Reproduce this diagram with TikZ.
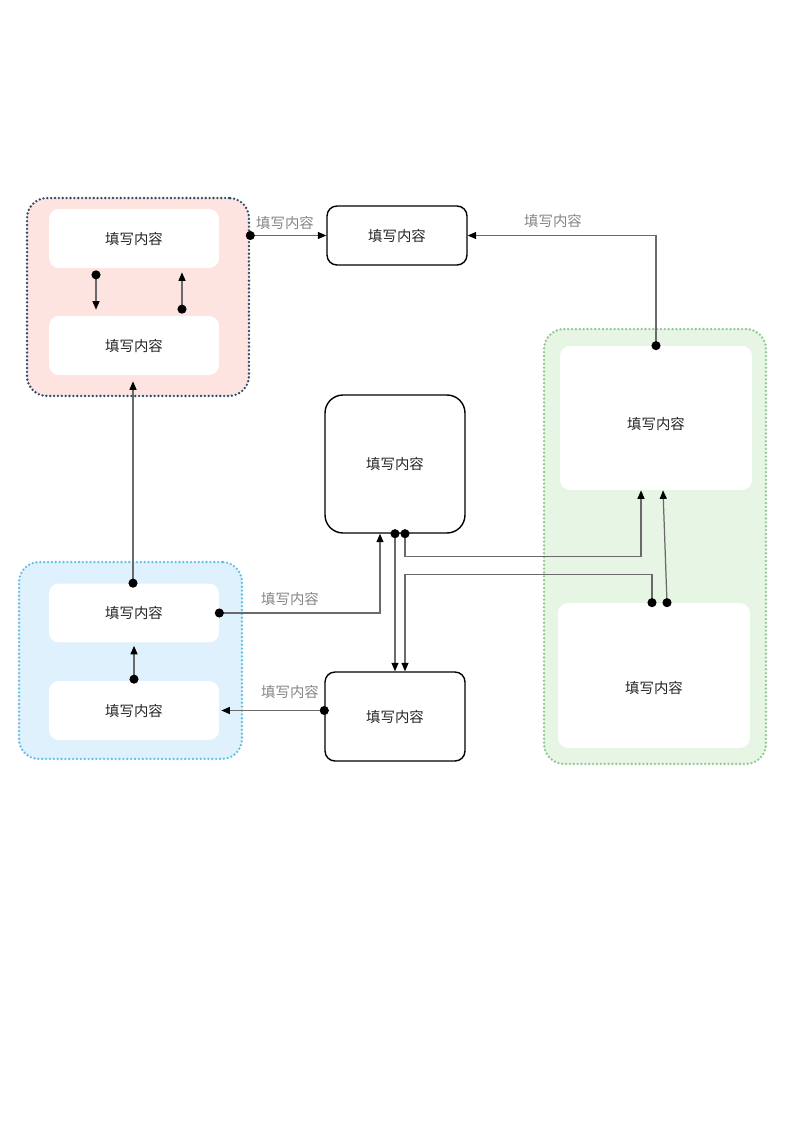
\documentclass[tikz,border=0pt]{standalone}
\usepackage{fontspec}
\setmainfont{Noto Sans CJK SC}
\usetikzlibrary{arrows.meta}
\definecolor{linegray}{HTML}{6A6A6A}
\definecolor{taggray}{HTML}{858585}
\definecolor{redfill}{HTML}{FDE4E1}
\definecolor{redline}{HTML}{2E4A68}
\definecolor{greenfill}{HTML}{E6F5E4}
\definecolor{greenline}{HTML}{8FCA8E}
\definecolor{bluefill}{HTML}{DEF1FC}
\definecolor{blueline}{HTML}{66C0E6}

\begin{document}
\begin{tikzpicture}[x=0.02cm, y=-0.02cm]
	\tikzstyle{every node} = [font=\fontsize{8.2}{10}\selectfont, text=black!85]
	\tikzstyle{group} = [rounded corners=0.4cm, line width=1.5pt, line cap=round, dash pattern=on 0pt off 2.2pt]
	\tikzstyle{inner} = [fill=white, rounded corners=0.2cm, minimum width=3.4cm, minimum height=1.18cm]
	\tikzstyle{box} = [draw=black, line width=0.8pt, rounded corners=0.2cm, minimum width=2.8cm]
	\tikzstyle{link} = [draw=linegray, line width=0.7pt, {Circle[length=0.18cm, color=black]}-{Triangle[length=0.17cm, width=0.14cm, color=black]}]
	\tikzstyle{tag} = [text=taggray]
	\useasboundingbox (0,0) rectangle (800,1131);
	\node [group, fill=redfill, draw=redline, minimum width=4.44cm, minimum height=3.96cm] (red) at (138,297) {};
	\node [group, fill=greenfill, draw=greenline, minimum width=4.44cm, minimum height=8.7cm] (green) at (655,546.5) {};
	\node [group, fill=bluefill, draw=blueline, minimum width=4.46cm, minimum height=3.94cm] (blue) at (130.5,660.5) {};
	\node [inner] (a1) at (134,238.5) {填写内容};
	\node [inner] (a2) at (134,345.5) {填写内容};
	\node [inner] (b1) at (134,613) {填写内容};
	\node [inner] (b2) at (134,710.5) {填写内容};
	\node [inner, minimum width=3.84cm, minimum height=2.88cm, text height=0.5cm] (g1) at (656,418) {填写内容};
	\node [inner, minimum width=3.84cm, minimum height=2.9cm, text height=0.75cm] (g2) at (654,675.5) {填写内容};
	\node [box, minimum height=1.18cm] (b) at (397,235.5) {填写内容};
	\node [box, minimum height=2.76cm, rounded corners=0.36cm] (c) at (395,464) {填写内容};
	\node [box, minimum height=1.78cm] (d) at (395,716.5) {填写内容};
	\node [tag] (t1) at (285,223) {填写内容};
	\node [tag] (t2) at (553,221) {填写内容};
	\node [tag] (t3) at (290,599) {填写内容};
	\node [tag] (t4) at (290,692) {填写内容};
	\draw [link, shorten <=0.04cm, shorten >=0.12cm] ([xshift=-0.76cm]a1.south) -- ([xshift=-0.76cm]a2.north);
	\draw [link, shorten <=0.04cm, shorten >=0.08cm] ([xshift=0.96cm]a2.north) -- ([xshift=0.96cm]a1.south);
	\draw [link, shorten <=-0.09cm] (red.east |- b.west) -- (b.west);
	\draw [link, shorten <=-0.09cm] (g1.north) |- (b.east);
	\draw [link, shorten <=-0.09cm, shorten >=0.12cm] ([xshift=-0.02cm]b1.north) -- ([xshift=-0.02cm]a2.south);
	\draw [link, shorten <=-0.06cm, shorten >=0.06cm] (b2.north) -- (b1.south);
	\draw [link, shorten <=-0.09cm] (b1.east) -| ([xshift=-0.3cm]c.south);
	\draw [link, shorten <=-0.09cm, shorten >=0.04cm] (d.west |- b2.east) -- (b2.east);
	\draw [link, shorten <=-0.09cm] (c.south) -- (d.north);
	\draw [link, shorten <=-0.09cm] ([xshift=0.2cm]c.south) -- ++(0,23) -| ([xshift=-0.3cm]g1.south);
	\draw [link, shorten <=-0.09cm] ([xshift=-0.04cm]g2.north) -- ++(0,-28) -| ([xshift=0.2cm]d.north);
	\draw [link, shorten <=-0.09cm] ([xshift=0.26cm]g2.north) -- ([xshift=0.14cm]g1.south);
\end{tikzpicture}
\end{document}
